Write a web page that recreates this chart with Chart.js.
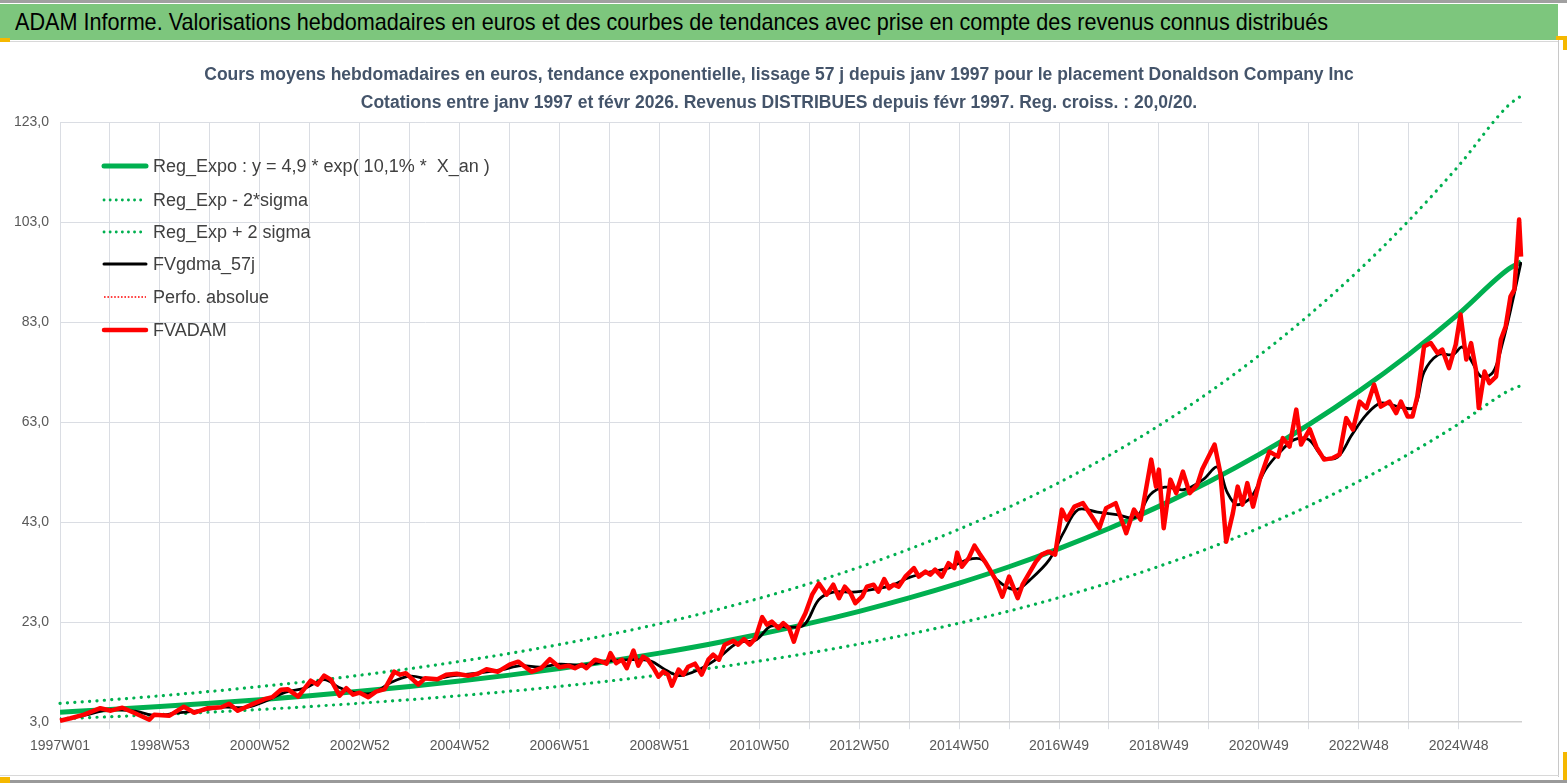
<!DOCTYPE html>
<html><head><meta charset="utf-8">
<script src="https://cdn.jsdelivr.net/npm/chart.js@4.4.1/dist/chart.umd.min.js"></script>
<style>
html,body{margin:0;padding:0;background:#fff;width:1567px;height:783px;overflow:hidden;}
#topline{position:absolute;left:0;top:0;width:1567px;height:3px;background:#a0a0a0;}
#banner{position:absolute;left:0;top:4px;width:1558px;height:36px;background:#7DC67D;color:#000;
  font-family:'Liberation Sans',Arial,sans-serif;font-size:24px;line-height:36px;padding-left:15px;box-sizing:border-box;white-space:nowrap;overflow:hidden;}
#banner span{display:inline-block;transform:scaleX(0.9);transform-origin:0 50%;}
#sep{position:absolute;left:0;top:41px;width:1558px;height:1px;background:#d8d8d8;}
#wrap{position:absolute;left:0;top:42px;width:1558px;height:733px;}
#rborder{position:absolute;left:1558px;top:40px;width:1px;height:737px;background:#c8c8c8;}
#bborder1{position:absolute;left:0;top:775px;width:1559px;height:1px;background:#d8d8d8;}
#bborder2{position:absolute;left:0;top:780px;width:1567px;height:3px;background:#9a9a9a;}
.mark{position:absolute;background:#F5B800;}
</style></head>
<body>
<div id="topline"></div>
<div id="banner"><span>ADAM Informe. Valorisations hebdomadaires en euros et des courbes de tendances avec prise en compte des revenus connus distribués</span></div>
<div id="sep"></div>
<div id="wrap"><canvas id="c" width="1558" height="733"></canvas></div>
<div id="rborder"></div>
<div id="bborder1"></div>
<div id="bborder2"></div>
<div class="mark" style="left:0;top:38px;width:10px;height:4px;"></div>
<div class="mark" style="left:1556px;top:36px;width:11px;height:4px;"></div>
<div class="mark" style="left:1563px;top:36px;width:4px;height:14px;"></div>
<div class="mark" style="left:0;top:777px;width:10px;height:6px;"></div>
<div class="mark" style="left:1563px;top:752px;width:4px;height:28px;"></div>
<script>
// ---- Data ----
const titleLines = [
  "Cours moyens hebdomadaires en euros, tendance exponentielle, lissage 57 j depuis janv 1997 pour le placement Donaldson Company Inc",
  "Cotations entre janv 1997 et févr 2026. Revenus DISTRIBUES depuis févr 1997. Reg. croiss. : 20,0/20."
];
const seriesNames = ["Reg_Expo : y = 4,9 * exp( 10,1% *  X_an )", "Reg_Exp - 2*sigma", "Reg_Exp + 2 sigma", "FVgdma_57j", "Perfo. absolue", "FVADAM"];

const xTickWeeks  = [0,104,208,312,416,520,624,728,832,936,1040,1144,1248,1352,1456];
const xTickLabels = ["1997W01","1998W53","2000W52","2002W52","2004W52","2006W51","2008W51","2010W50","2012W50","2014W50","2016W49","2018W49","2020W49","2022W48","2024W48"];

const trendWeeks = [0,52,104,156,208,260,312,364,416,468,520,572,624,676,728,780,832,884,936,988,1040,1092,1144,1196,1248,1300,1352,1404,1456,1508,1521];
const trendValues = [5.0,5.53,6.12,6.77,7.49,8.29,9.17,10.14,11.22,12.41,13.73,15.19,16.81,18.59,20.57,22.75,25.17,27.85,30.81,34.08,37.71,41.72,46.15,51.06,56.49,62.49,69.14,76.49,84.62,93.6,95.0];
const lowerValues = [3.70,4.09,4.53,5.01,5.54,6.13,6.79,7.50,8.30,9.18,10.16,11.24,12.44,13.76,15.22,16.84,18.63,20.61,22.80,25.22,27.91,30.87,34.15,37.78,41.80,46.24,51.16,56.60,62.62,69.26,70.3];
const upperValues = [6.75,7.47,8.26,9.14,10.11,11.19,12.38,13.69,15.15,16.75,18.54,20.51,22.69,25.10,27.77,30.71,33.98,37.60,41.59,46.01,50.91,56.32,62.30,68.93,76.26,84.36,93.34,103.26,114.24,126.36,128.2];

const smoothWeeks = [0,26,52,78,100,120,145,170,195,215,
  235,255,275,290,305,325,345,365,385,410,
  435,460,480,500,520,545,570,595,615,630,
  645,665,685,705,725,740,760,775,790,805,
  825,845,865,885,905,925,945,960,975,995,
  1010,1030,1045,1060,1080,1100,1120,1135,1150,1170,
  1190,1205,1215,1225,1240,1255,1270,1285,1300,1315,
  1330,1345,1360,1375,1395,1410,1420,1435,1450,1460,
  1470,1480,1492,1502,1512,1521];
const smoothValues = [3.4,4.4,5.5,5.2,4.3,4.8,5.3,6.0,6.0,7.3,
  9.0,9.8,11.5,10.0,9.0,8.8,11.0,12.2,11.6,12.3,
  12.8,13.5,14.3,14.0,14.6,14.4,15.2,15.5,15.2,13.5,
  12.3,13.5,15.8,18.8,19.5,22.2,22.0,22.5,27.5,29.0,
  29.0,29.5,30.3,32.0,33.0,33.8,35.5,35.5,31.5,29.5,
  31.5,35.5,41.0,45.5,45.0,44.5,44.0,48.5,50.0,49.5,
  51.5,54.0,49.0,46.5,48.0,53.5,57.0,59.5,59.5,56.0,
  56.0,60.5,64.5,66.8,66.0,66.0,73.0,76.5,76.5,78.0,
  75.0,72.0,73.0,79.0,87.0,95.0];

const adamWeeks = [0,11,25,42,53,65,77,93,98,114,
  129,140,154,168,176,185,199,213,221,230,
  237,248,261,268,275,282,291,298,305,312,
  321,329,338,348,354,360,373,380,393,402,
  413,425,435,444,456,468,477,491,501,510,
  520,529,536,543,548,557,564,569,573,579,
  585,590,597,602,607,612,618,623,628,633,
  637,644,649,654,661,668,675,680,686,692,
  701,706,712,718,724,731,736,741,748,753,
  759,764,769,776,783,790,798,805,811,817,
  823,828,835,840,847,852,858,863,868,873,
  880,889,894,901,906,911,918,925,931,934,
  939,946,952,957,963,968,974,981,988,997,
  1002,1009,1016,1022,1029,1036,1043,1048,1056,1065,
  1073,1082,1089,1099,1110,1118,1125,1136,1141,1144,
  1149,1156,1162,1169,1176,1184,1189,1202,1208,1214,
  1221,1226,1231,1236,1242,1249,1259,1268,1273,1280,
  1287,1292,1301,1308,1316,1325,1332,1339,1346,1353,
  1360,1368,1375,1384,1391,1396,1403,1408,1413,1420,
  1427,1434,1439,1446,1453,1458,1464,1469,1474,1477,
  1483,1488,1495,1500,1505,1510,1514,1517,1519,1521];
const adamValues = [3.3,3.8,4.5,5.8,5.3,5.9,4.9,3.5,4.5,4.3,
  6.1,4.9,5.8,6.0,6.7,5.3,6.5,7.6,8.0,9.5,
  9.6,8.1,11.3,10.5,12.3,11.5,8.3,9.8,8.5,8.9,
  8.0,9.1,9.6,13.1,12.5,12.8,10.5,11.8,11.6,12.5,
  12.7,12.3,12.7,13.6,13.1,14.5,15.1,13.1,13.8,15.6,
  14.0,14.3,13.8,14.5,13.8,15.5,15.1,14.7,16.8,14.8,
  15.5,13.8,17.3,14.3,16.1,15.5,13.8,12.1,13.1,12.5,
  10.3,13.5,12.5,14.1,14.7,12.5,15.5,16.5,15.5,18.5,
  19.3,18.5,19.6,18.5,19.8,24.0,22.5,23.1,21.8,22.8,
  21.8,19.1,22.1,24.8,28.5,30.7,28.5,30.5,27.8,30.1,
  28.8,26.8,28.1,30.1,30.5,29.1,31.6,29.8,30.5,30.1,
  32.1,33.8,32.1,33.1,32.5,33.5,32.1,34.8,33.8,36.9,
  34.1,35.8,38.3,36.8,35.1,33.5,31.5,28.1,32.1,27.8,
  30.5,32.8,35.1,36.5,37.1,36.5,45.5,43.5,46.1,46.8,
  44.5,41.8,45.8,46.8,40.8,45.5,43.5,55.5,50.1,53.5,
  41.8,51.5,48.8,53.1,48.8,50.5,53.5,58.5,52.8,39.1,
  44.8,50.1,46.5,50.8,46.1,51.5,57.1,56.1,59.8,58.1,
  65.5,58.5,61.6,58.0,55.5,55.8,56.5,63.8,61.5,67.1,
  65.8,70.5,66.1,67.1,64.8,67.1,64.1,64.1,68.1,78.1,
  78.8,76.8,77.5,73.8,78.5,84.5,75.5,78.8,73.5,65.8,
  73.1,70.8,72.1,79.5,82.1,88.1,89.5,97.5,103.5,96.1];

const yMin = 3, yMax = 123, yStep = 20;

// ---- Build chart ----
const pts = (xs, ys) => xs.map((x, i) => ({x: x, y: ys[i]}));
const GREEN = '#00B050', RED = '#FF0000', BLACK = '#000000';
const FONT = "'Liberation Sans', Arial, sans-serif";

const datasets = [
  {label: seriesNames[0], data: pts(trendWeeks, trendValues), borderColor: GREEN, borderWidth: 5, cubicInterpolationMode: 'monotone', order: 3, legendWidth: 5},
  {label: seriesNames[1], data: pts(trendWeeks, lowerValues), borderColor: GREEN, borderWidth: 3.2, borderDash: [0.1, 7.3], borderCapStyle: 'round', cubicInterpolationMode: 'monotone', order: 4, legendWidth: 2.8, legendDash: [0.1, 6]},
  {label: seriesNames[2], data: pts(trendWeeks, upperValues), borderColor: GREEN, borderWidth: 3.2, borderDash: [0.1, 7.3], borderCapStyle: 'round', cubicInterpolationMode: 'monotone', order: 4, clip: false, legendWidth: 2.8, legendDash: [0.1, 6]},
  {label: seriesNames[3], data: pts(smoothWeeks, smoothValues), borderColor: BLACK, borderWidth: 2.8, tension: 0.35, order: 2, legendWidth: 3},
  {label: seriesNames[4], data: [], borderColor: RED, borderWidth: 1.5, borderDash: [2, 2], order: 1, legendWidth: 1.6, legendDash: [1.6, 1.8]},
  {label: seriesNames[5], data: pts(adamWeeks, adamValues), borderColor: RED, borderWidth: 4.5, borderJoinStyle: 'round', order: 0, clip: false, legendWidth: 4.5}
];

const legendPlugin = {
  id: 'insideLegend',
  afterDatasetsDraw(chart) {
    const ctx = chart.ctx;
    const ys = [124, 158, 190, 222, 255, 288];
    ctx.save();
    chart.data.datasets.forEach((ds, i) => {
      const y = ys[i];
      ctx.beginPath();
      ctx.strokeStyle = ds.borderColor;
      ctx.lineWidth = ds.legendWidth;
      ctx.lineCap = ds.legendDash ? 'butt' : 'round';
      if (ds.legendDash && ds.legendDash[0] < 1) ctx.lineCap = 'round';
      ctx.setLineDash(ds.legendDash || []);
      ctx.moveTo(104, y);
      ctx.lineTo(146, y);
      ctx.stroke();
      ctx.setLineDash([]);
      ctx.fillStyle = '#404040';
      ctx.font = "18px " + FONT;
      ctx.textBaseline = 'middle';
      ctx.textAlign = 'left';
      ctx.fillText(ds.label, 153, y + 1);
    });
    ctx.restore();
  }
};

new Chart(document.getElementById('c'), {
  type: 'line',
  data: {datasets: datasets},
  plugins: [legendPlugin],
  options: {
    responsive: false,
    animation: false,
    elements: {point: {radius: 0}, line: {fill: false}},
    layout: {padding: {top: 4, left: 0, right: 0, bottom: 11}},
    plugins: {
      legend: {display: false},
      tooltip: {enabled: false},
      title: {
        display: true,
        text: titleLines,
        color: '#44546A',
        font: {family: FONT, size: 17.5, weight: 'bold', lineHeight: 1.6},
        padding: {top: 15, bottom: 5}
      }
    },
    scales: {
      x: {
        type: 'linear', min: 0, max: 1522,
        border: {display: false},
        grid: {
          color: (c) => (c.tick && c.tick.value % 52 === 0) ? '#DADDE3' : 'rgba(0,0,0,0)',
          tickLength: 7, lineWidth: 1
        },
        ticks: {
          stepSize: 52, autoSkip: false, maxRotation: 0, minRotation: 0,
          color: '#595959', font: {family: FONT, size: 14}, padding: 9,
          callback: (v) => { const k = xTickWeeks.indexOf(v); return k >= 0 ? xTickLabels[k] : ''; }
        }
      },
      y: {
        min: yMin, max: yMax,
        border: {display: false},
        grid: {color: (c) => c.tick && c.tick.value === yMin ? '#D0D0D0' : '#DADDE3', drawTicks: false, lineWidth: (c) => c.tick && c.tick.value === yMin ? 1.5 : 1},
        ticks: {
          stepSize: yStep, color: '#595959', font: {family: FONT, size: 14}, padding: 11,
          callback: (v) => v.toFixed(1).replace('.', ',')
        },
        afterFit: (s) => { s.width = 60; }
      },
      yRight: {
        position: 'right', min: yMin, max: yMax,
        border: {display: false},
        grid: {display: false},
        ticks: {display: false},
        afterFit: (s) => { s.width = 36; }
      }
    }
  }
});
</script>
</body></html>
